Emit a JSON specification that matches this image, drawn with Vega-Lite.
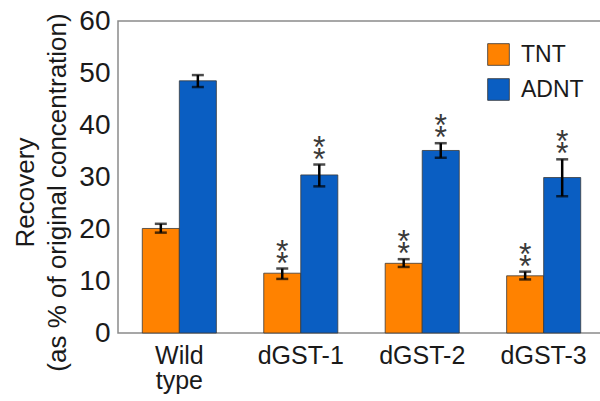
{
  "$schema": "https://vega.github.io/schema/vega-lite/v6.json",
  "autosize": "none",
  "width": 487,
  "height": 312,
  "padding": {"left": 118, "top": 21, "right": 0, "bottom": 68},
  "background": "white",
  "config": {
    "font": "Liberation Sans",
    "view": {"stroke": "#8a8a8a", "strokeWidth": 1.5}
  },
  "data": {
    "values": [
      {"group": "Wild type", "series": "TNT", "value": 20.1, "lo": 19.3, "hi": 21.0, "sig": ""},
      {"group": "Wild type", "series": "ADNT", "value": 48.5, "lo": 47.3, "hi": 49.6, "sig": ""},
      {"group": "dGST-1", "series": "TNT", "value": 11.5, "lo": 10.4, "hi": 12.4, "sig": "*"},
      {"group": "dGST-1", "series": "ADNT", "value": 30.4, "lo": 28.2, "hi": 32.4, "sig": "*"},
      {"group": "dGST-2", "series": "TNT", "value": 13.4, "lo": 12.7, "hi": 14.2, "sig": "*"},
      {"group": "dGST-2", "series": "ADNT", "value": 35.1, "lo": 33.7, "hi": 36.5, "sig": "*"},
      {"group": "dGST-3", "series": "TNT", "value": 11.0, "lo": 10.3, "hi": 11.8, "sig": "*"},
      {"group": "dGST-3", "series": "ADNT", "value": 29.9, "lo": 26.3, "hi": 33.4, "sig": "*"}
    ]
  },
  "encoding": {
    "x": {
      "field": "group", "type": "nominal", "sort": null,
      "scale": {"paddingInner": 0.39, "paddingOuter": 0.2},
      "axis": {
        "title": null, "labelAngle": 0, "ticks": false, "domain": false,
        "labelFontSize": 25, "labelColor": "#1a1a1a", "labelPadding": 10,
        "labelLineHeight": 25, "labelExpr": "split(datum.value, ' ')"
      }
    },
    "xOffset": {"field": "series", "type": "nominal", "sort": ["TNT", "ADNT"]}
  },
  "layer": [
    {
      "mark": {"type": "bar", "stroke": "#3a3a3a", "strokeWidth": 0.8},
      "encoding": {
        "y": {
          "field": "value", "type": "quantitative",
          "scale": {"domain": [0, 60]},
          "axis": {
            "values": [0, 10, 20, 30, 40, 50, 60], "grid": false, "ticks": false,
            "domain": false, "labelFontSize": 28, "labelColor": "#1a1a1a", "labelPadding": 8,
            "title": ["Recovery", "(as % of original concentration)"],
            "titleFontSize": 26, "titleFontWeight": "normal", "titleColor": "#1a1a1a",
            "titleLineHeight": 32, "titlePadding": 8, "titleY": 171
          }
        },
        "color": {
          "field": "series", "type": "nominal",
          "scale": {"domain": ["TNT", "ADNT"], "range": ["#FF8200", "#0A5EC2"]},
          "legend": {
            "title": null, "orient": "none", "legendX": 369, "legendY": 22,
            "symbolType": "square", "symbolSize": 470, "symbolStrokeColor": "#333",
            "symbolStrokeWidth": 0.8, "labelFontSize": 23, "labelColor": "#1a1a1a",
            "rowPadding": 10, "labelOffset": 11
          }
        }
      }
    },
    {
      "mark": {"type": "rule", "color": "black", "strokeWidth": 2.5},
      "encoding": {
        "y": {"field": "lo", "type": "quantitative"},
        "y2": {"field": "hi"}
      }
    },
    {
      "mark": {"type": "tick", "color": "black", "thickness": 2.5, "size": 12},
      "encoding": {"y": {"field": "lo", "type": "quantitative"}}
    },
    {
      "mark": {"type": "tick", "color": "black", "thickness": 2.5, "size": 12},
      "encoding": {"y": {"field": "hi", "type": "quantitative"}}
    },
    {
      "mark": {"type": "text", "baseline": "middle", "align": "center", "fontSize": 32, "dy": -5, "color": "#3a3a3a"},
      "encoding": {
        "y": {"field": "hi", "type": "quantitative"},
        "text": {"field": "sig"}
      }
    },
    {
      "mark": {"type": "text", "baseline": "middle", "align": "center", "fontSize": 32, "dy": -17, "color": "#3a3a3a"},
      "encoding": {
        "y": {"field": "hi", "type": "quantitative"},
        "text": {"field": "sig"}
      }
    }
  ]
}
